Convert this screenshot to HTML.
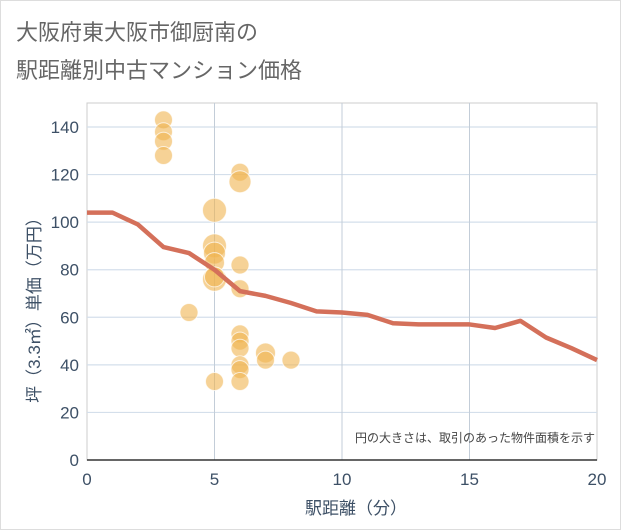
<!DOCTYPE html>
<html><head><meta charset="utf-8"><style>
body{margin:0;background:#fff;}
svg{display:block;font-family:"Liberation Sans","Noto Sans CJK JP",sans-serif;}
</style></head><body>
<svg id="c" width="621" height="530">
<rect x="0.5" y="0.5" width="620" height="529" fill="#fff" stroke="#ddd"/>
<text x="16" y="40" font-size="22" fill="#666">大阪府東大阪市御厨南の</text>
<text x="16" y="78" font-size="22" fill="#666">駅距離別中古マンション価格</text>
<g id="grid"></g>
<g id="axes"></g>
<g id="bubbles"></g>
<g id="line"></g>
<text x="595" y="442" font-size="12" fill="#444" text-anchor="end">円の大きさは、取引のあった物件面積を示す</text>
<text x="356" y="514" font-size="17" fill="#3d5066" text-anchor="middle">駅距離（分）</text>
<text transform="translate(40,306) rotate(-90)" font-size="17" fill="#3d5066" text-anchor="middle">坪（3.3㎡）単価（万円）</text>
</svg>
<script>
const xTicks=[0,5,10,15,20];
const yTicks=[0,20,40,60,80,100,120,140];
const bubbleX=[3,3,3,3,6,6,5,5,5,5,5,5,6,6,4,6,6,6,6,6,6,7,7,8,5];
const bubbleY=[143,138,134,128,121,117,105,90,87,83,76,77,82,72,62,53,50,47,40,38,33,45,42,42,33];
const bubbleR=[9,9,9,9,9,11,12,12,11,10,12,10,9,9,9,9,9,9,9,9,9,10,9,9,9];
const lineX=[0,1,2,3,4,5,6,7,8,9,10,11,12,13,14,15,16,17,18,19,20];
const lineY=[104,104,99,89.5,87,80,71,69,66,62.5,62,61,57.5,57,57,57,55.5,58.5,51.5,47,42];
const NS="http://www.w3.org/2000/svg";
const L=87,R=597,T=103,B=460;
const sx=v=>L+(v/20)*(R-L);
const sy=v=>B-(v/140)*(B-127);
function mk(p,t,a){const e=document.createElementNS(NS,t);for(const k in a)e.setAttribute(k,a[k]);p.appendChild(e);return e;}
const g=document.getElementById('grid'),ax=document.getElementById('axes');
mk(g,'rect',{x:L,y:T,width:R-L,height:B-T,fill:'none',stroke:'#ccc'});
yTicks.forEach(v=>{if(v>0){const l=mk(g,'line',{x1:L,x2:R,y1:sy(v),y2:sy(v),stroke:'#d4dfeb','stroke-width':1.2});

}
const t=mk(ax,'text',{x:L-8,y:sy(v)+6,'font-size':17,fill:'#3d5066','text-anchor':'end'});t.textContent=v;

});
xTicks.forEach(v=>{if(v>0&&v<20){const l=mk(g,'line',{x1:sx(v),x2:sx(v),y1:T,y2:B,stroke:'#c3cdd8'});

}
const t=mk(ax,'text',{x:sx(v),y:B+25,'font-size':17,fill:'#3d5066','text-anchor':'middle'});t.textContent=v;

});
mk(ax,'line',{x1:L,x2:R,y1:B,y2:B,stroke:'#333','stroke-width':1.5});
const bg=document.getElementById('bubbles');
bubbleX.forEach((x,i)=>{const c=mk(bg,'circle',{cx:sx(x),cy:sy(bubbleY[i]),r:bubbleR[i],fill:'rgba(240,180,80,0.6)',stroke:'rgba(255,255,255,0.7)','stroke-width':1});

});
const lg=document.getElementById('line');
const p=mk(lg,'polyline',{points:lineX.map((x,i)=>sx(x)+','+sy(lineY[i])).join(' '),fill:'none',stroke:'#d4705a','stroke-width':4.5,'stroke-linejoin':'round'});


</script>
</body></html>
